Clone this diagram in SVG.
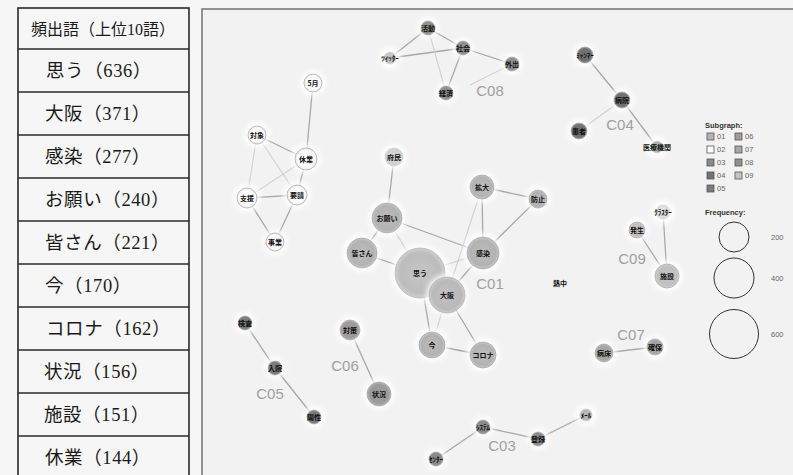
<svg xmlns="http://www.w3.org/2000/svg" width="793" height="475" viewBox="0 0 793 475">
  <style>
    .tbl-line { stroke: #2a2a2a; stroke-width: 1.6; }
    .tbl-text { font-family: "Liberation Serif", "Noto Sans CJK JP", serif; font-size: 18.5px; letter-spacing: 0.6px; fill: #1a1a1a; }
    .tbl-head { font-family: "Liberation Serif", "Noto Sans CJK JP", serif; font-size: 16px; fill: #1a1a1a; }
    .edge { stroke: #a8a8a8; stroke-width: 1.3; fill: none; }
    .edge-faint { stroke: #d0d0d0; stroke-width: 1.1; fill: none; }
    .node-label { font-family: "Noto Sans CJK JP", sans-serif; font-size: 7px; font-weight: bold; fill: #111; text-anchor: middle; dominant-baseline: central; }
    .cluster { font-family: "Liberation Sans", "DejaVu Sans", sans-serif; font-size: 15px; fill: #a0a0a0; text-anchor: middle; dominant-baseline: central; }
    .legend-title { font-family: "Liberation Sans", sans-serif; font-size: 7.5px; font-weight: bold; fill: #333; }
    .legend-text { font-family: "Liberation Sans", sans-serif; font-size: 7.5px; fill: #666; }
    .sw { stroke: #555; stroke-width: 0.8; }
    .halo { fill: #ffffff; opacity: 0.85; }
    .n { stroke: #9a9a9a; stroke-width: 0.6; }
    .g01 { fill: url(#gr01); }
    .g02 { fill: url(#gr02); }
    .g03 { fill: url(#gr03); }
    .g04 { fill: url(#gr04); }
    .g05 { fill: url(#gr05); }
    .g06 { fill: url(#gr06); }
    .g07 { fill: url(#gr07); }
    .g08 { fill: url(#gr08); }
    .g09 { fill: url(#gr09); }
  </style>
  <defs>
    <filter id="soft" x="-50%" y="-50%" width="200%" height="200%">
      <feGaussianBlur stdDeviation="2.5"/>
    </filter>
    <radialGradient id="gr01"><stop offset="0" stop-color="#bdbdbd"/><stop offset="0.8" stop-color="#b2b2b2"/><stop offset="1" stop-color="#c9c9c9"/></radialGradient>
    <radialGradient id="gr02"><stop offset="0" stop-color="#ffffff"/><stop offset="0.8" stop-color="#fafafa"/><stop offset="1" stop-color="#e4e4e4"/></radialGradient>
    <radialGradient id="gr03"><stop offset="0" stop-color="#8c8c8c"/><stop offset="0.8" stop-color="#8a8a8a"/><stop offset="1" stop-color="#b0b0b0"/></radialGradient>
    <radialGradient id="gr04"><stop offset="0" stop-color="#6e6e6e"/><stop offset="0.8" stop-color="#727272"/><stop offset="1" stop-color="#a0a0a0"/></radialGradient>
    <radialGradient id="gr05"><stop offset="0" stop-color="#7a7a7a"/><stop offset="0.8" stop-color="#7c7c7c"/><stop offset="1" stop-color="#a8a8a8"/></radialGradient>
    <radialGradient id="gr06"><stop offset="0" stop-color="#9a9a9a"/><stop offset="0.8" stop-color="#9c9c9c"/><stop offset="1" stop-color="#bcbcbc"/></radialGradient>
    <radialGradient id="gr07"><stop offset="0" stop-color="#a4a4a4"/><stop offset="0.8" stop-color="#a6a6a6"/><stop offset="1" stop-color="#c4c4c4"/></radialGradient>
    <radialGradient id="gr08"><stop offset="0" stop-color="#8e8e8e"/><stop offset="0.8" stop-color="#909090"/><stop offset="1" stop-color="#b4b4b4"/></radialGradient>
    <radialGradient id="gr09"><stop offset="0" stop-color="#c4c4c4"/><stop offset="0.8" stop-color="#c0c0c0"/><stop offset="1" stop-color="#d6d6d6"/></radialGradient>
  </defs>

  <rect x="0" y="0" width="793" height="475" fill="#f7f7f7"/>

  <!-- frequency table -->
  <g id="freq-table">
    <rect x="18" y="8" width="171" height="475" fill="#f6f6f6" class="tbl-line"/>
    <line class="tbl-line" x1="18" y1="49" x2="189" y2="49"/>
    <line class="tbl-line" x1="18" y1="92" x2="189" y2="92"/>
    <line class="tbl-line" x1="18" y1="135" x2="189" y2="135"/>
    <line class="tbl-line" x1="18" y1="178" x2="189" y2="178"/>
    <line class="tbl-line" x1="18" y1="221" x2="189" y2="221"/>
    <line class="tbl-line" x1="18" y1="264" x2="189" y2="264"/>
    <line class="tbl-line" x1="18" y1="307" x2="189" y2="307"/>
    <line class="tbl-line" x1="18" y1="350" x2="189" y2="350"/>
    <line class="tbl-line" x1="18" y1="393" x2="189" y2="393"/>
    <line class="tbl-line" x1="18" y1="436" x2="189" y2="436"/>
    <text class="tbl-head" x="103" y="35" text-anchor="middle">頻出語（上位10語）</text>
    <text class="tbl-text" x="46" y="77">思う（636）</text>
    <text class="tbl-text" x="45" y="120">大阪（371）</text>
    <text class="tbl-text" x="45" y="163">感染（277）</text>
    <text class="tbl-text" x="45" y="206">お願い（240）</text>
    <text class="tbl-text" x="45" y="249">皆さん（221）</text>
    <text class="tbl-text" x="45" y="292">今（170）</text>
    <text class="tbl-text" x="46" y="335">コロナ（162）</text>
    <text class="tbl-text" x="44" y="378">状況（156）</text>
    <text class="tbl-text" x="44" y="421">施設（151）</text>
    <text class="tbl-text" x="45" y="464">休業（144）</text>
  </g>

  <!-- network panel -->
  <rect x="202" y="9" width="595" height="475" fill="#f2f2f2" stroke="#7a7a7a" stroke-width="1.6"/>

  <g id="connectors">
    <!-- C02 -->
    <line class="edge" x1="313" y1="83" x2="306" y2="159"/>
    <line class="edge" x1="257" y1="135" x2="306" y2="159"/>
    <line class="edge-faint" x1="257" y1="135" x2="247" y2="198"/>
    <line class="edge-faint" x1="257" y1="135" x2="297" y2="195"/>
    <line class="edge" x1="306" y1="159" x2="297" y2="195"/>
    <line class="edge-faint" x1="306" y1="159" x2="247" y2="198"/>
    <line class="edge" x1="247" y1="198" x2="297" y2="195"/>
    <line class="edge" x1="247" y1="198" x2="275" y2="242"/>
    <line class="edge" x1="297" y1="195" x2="275" y2="242"/>
    <!-- C08 -->
    <line class="edge" x1="428" y1="28" x2="390" y2="58"/>
    <line class="edge" x1="428" y1="28" x2="463" y2="48"/>
    <line class="edge" x1="390" y1="58" x2="463" y2="48"/>
    <line class="edge-faint" x1="428" y1="28" x2="446" y2="93"/>
    <line class="edge" x1="463" y1="48" x2="446" y2="93"/>
    <line class="edge" x1="463" y1="48" x2="512" y2="64"/>
    <line class="edge-faint" x1="512" y1="64" x2="470" y2="85"/>
    <!-- C01 -->
    <line class="edge" x1="394" y1="157" x2="387" y2="218"/>
    <line class="edge" x1="387" y1="218" x2="362" y2="253"/>
    <line class="edge" x1="387" y1="218" x2="483" y2="253"/>
    <line class="edge-faint" x1="387" y1="218" x2="420" y2="273"/>
    <line class="edge" x1="482" y1="187" x2="483" y2="253"/>
    <line class="edge" x1="482" y1="187" x2="538" y2="199"/>
    <line class="edge" x1="538" y1="199" x2="483" y2="253"/>
    <line class="edge-faint" x1="482" y1="187" x2="447" y2="295"/>
    <line class="edge" x1="362" y1="253" x2="420" y2="273"/>
    <line class="edge-faint" x1="420" y1="273" x2="483" y2="253"/>
    <line class="edge" x1="420" y1="273" x2="432" y2="345"/>
    <line class="edge-faint" x1="447" y1="295" x2="432" y2="345"/>
    <line class="edge" x1="447" y1="295" x2="483" y2="355"/>
    <line class="edge" x1="432" y1="345" x2="483" y2="355"/>
    <line class="edge" x1="447" y1="295" x2="483" y2="253"/>
    <!-- C04 -->
    <line class="edge" x1="585" y1="55" x2="622" y2="100"/>
    <line class="edge" x1="622" y1="100" x2="657" y2="147"/>
    <line class="edge-faint" x1="579" y1="131" x2="622" y2="100"/>
    <!-- C09 -->
    <line class="edge" x1="663" y1="212" x2="667" y2="276"/>
    <line class="edge" x1="637" y1="230" x2="667" y2="276"/>
    <!-- C07 -->
    <line class="edge" x1="604" y1="353" x2="655" y2="347"/>
    <!-- C05 -->
    <line class="edge" x1="245" y1="323" x2="275" y2="368"/>
    <line class="edge" x1="275" y1="368" x2="314" y2="417"/>
    <!-- C06 -->
    <line class="edge" x1="350" y1="330" x2="379" y2="394"/>
    <!-- C03 -->
    <line class="edge" x1="436" y1="459" x2="483" y2="427"/>
    <line class="edge" x1="483" y1="427" x2="538" y2="439"/>
    <line class="edge" x1="538" y1="439" x2="586" y2="415"/>
  </g>

  <!-- C02 nodes -->
  <g id="n-5gatsu"><circle class="halo" cx="313" cy="83" r="13" filter="url(#soft)"/><circle class="n g02" cx="313" cy="83" r="9"/><text class="node-label" x="313" y="83">5月</text></g>
  <g id="n-taisho"><circle class="halo" cx="257" cy="135" r="13" filter="url(#soft)"/><circle class="n g02" cx="257" cy="135" r="9"/><text class="node-label" x="257" y="135">対象</text></g>
  <g id="n-kyugyo"><circle class="halo" cx="306" cy="159" r="15" filter="url(#soft)"/><circle class="n g02" cx="306" cy="159" r="11"/><text class="node-label" x="306" y="159">休業</text></g>
  <g id="n-yosei"><circle class="halo" cx="297" cy="195" r="14" filter="url(#soft)"/><circle class="n g02" cx="297" cy="195" r="10"/><text class="node-label" x="297" y="195">要請</text></g>
  <g id="n-shien"><circle class="halo" cx="247" cy="198" r="14" filter="url(#soft)"/><circle class="n g02" cx="247" cy="198" r="10"/><text class="node-label" x="247" y="198">支援</text></g>
  <g id="n-jigyo"><circle class="halo" cx="275" cy="242" r="13" filter="url(#soft)"/><circle class="n g02" cx="275" cy="242" r="9"/><text class="node-label" x="275" y="242">事業</text></g>

  <!-- C08 nodes -->
  <g id="n-katsudo"><circle class="halo" cx="428" cy="28" r="11" filter="url(#soft)"/><circle class="n g08" cx="428" cy="28" r="7"/><text class="node-label" x="428" y="28">活動</text></g>
  <g id="n-twitter"><circle class="halo" cx="390" cy="58" r="11" filter="url(#soft)"/><circle class="n g08" cx="390" cy="58" r="6" opacity="0.5"/><text class="node-label" x="390" y="58">ﾂｲｯﾀｰ</text></g>
  <g id="n-shakai"><circle class="halo" cx="463" cy="48" r="11" filter="url(#soft)"/><circle class="n g08" cx="463" cy="48" r="7"/><text class="node-label" x="463" y="48">社会</text></g>
  <g id="n-gaishutsu"><circle class="halo" cx="512" cy="64" r="11" filter="url(#soft)"/><circle class="n g08" cx="512" cy="64" r="7"/><text class="node-label" x="512" y="64">外出</text></g>
  <g id="n-keizai"><circle class="halo" cx="446" cy="93" r="11" filter="url(#soft)"/><circle class="n g08" cx="446" cy="93" r="7"/><text class="node-label" x="446" y="93">経済</text></g>

  <!-- C01 nodes -->
  <g id="n-fumin"><circle class="halo" cx="394" cy="157" r="13" filter="url(#soft)"/><circle class="n g01" cx="394" cy="157" r="9" opacity="0.6"/><text class="node-label" x="394" y="157">府民</text></g>
  <g id="n-onegai"><circle class="halo" cx="387" cy="218" r="19" filter="url(#soft)"/><circle class="n g01" cx="387" cy="218" r="15"/><text class="node-label" x="387" y="218">お願い</text></g>
  <g id="n-kakudai"><circle class="halo" cx="482" cy="187" r="16" filter="url(#soft)"/><circle class="n g01" cx="482" cy="187" r="12"/><text class="node-label" x="482" y="187">拡大</text></g>
  <g id="n-boshi"><circle class="halo" cx="538" cy="199" r="13" filter="url(#soft)"/><circle class="n g01" cx="538" cy="199" r="9"/><text class="node-label" x="538" y="199">防止</text></g>
  <g id="n-minasan"><circle class="halo" cx="362" cy="253" r="19" filter="url(#soft)"/><circle class="n g01" cx="362" cy="253" r="15"/><text class="node-label" x="362" y="253">皆さん</text></g>
  <g id="n-kansen"><circle class="halo" cx="483" cy="253" r="20" filter="url(#soft)"/><circle class="n g01" cx="483" cy="253" r="16"/><text class="node-label" x="483" y="253">感染</text></g>
  <g id="n-omou"><circle class="halo" cx="420" cy="273" r="29" filter="url(#soft)"/><circle class="n g01" cx="420" cy="273" r="25" opacity="0.85"/><text class="node-label" x="420" y="273">思う</text></g>
  <g id="n-osaka"><circle class="halo" cx="447" cy="295" r="21" filter="url(#soft)" opacity="0.4"/><circle class="n g01" cx="447" cy="295" r="18" opacity="0.9"/><text class="node-label" x="447" y="295">大阪</text></g>
  <g id="n-ima"><circle class="halo" cx="432" cy="345" r="17" filter="url(#soft)"/><circle class="n g01" cx="432" cy="345" r="13"/><text class="node-label" x="432" y="345">今</text></g>
  <g id="n-corona"><circle class="halo" cx="483" cy="355" r="17" filter="url(#soft)"/><circle class="n g01" cx="483" cy="355" r="13"/><text class="node-label" x="483" y="355">コロナ</text></g>
  <text class="cluster" x="490" y="283">C01</text>

  <!-- C04 nodes -->
  <g id="n-myanmar"><circle class="halo" cx="585" cy="55" r="12" filter="url(#soft)"/><circle class="n g04" cx="585" cy="55" r="8"/><text class="node-label" x="585" y="55">ﾐｬﾝﾏｰ</text></g>
  <g id="n-byoin"><circle class="halo" cx="622" cy="100" r="12" filter="url(#soft)"/><circle class="n g04" cx="622" cy="100" r="8"/><text class="node-label" x="622" y="100">病院</text></g>
  <g id="n-kanja"><circle class="halo" cx="579" cy="131" r="12" filter="url(#soft)"/><circle class="n g04" cx="579" cy="131" r="8"/><text class="node-label" x="579" y="131">患者</text></g>
  <g id="n-iryokikan"><circle class="halo" cx="657" cy="147" r="11" filter="url(#soft)"/><circle class="n g04" cx="657" cy="147" r="6" opacity="0.5"/><text class="node-label" x="657" y="147">医療機関</text></g>
  <text class="cluster" x="620" y="124">C04</text>

  <!-- C09 nodes -->
  <g id="n-cluster"><circle class="halo" cx="663" cy="212" r="12" filter="url(#soft)"/><circle class="n g09" cx="663" cy="212" r="7" opacity="0.5"/><text class="node-label" x="663" y="212">ｸﾗｽﾀｰ</text></g>
  <g id="n-hassei"><circle class="halo" cx="637" cy="230" r="12" filter="url(#soft)"/><circle class="n g09" cx="637" cy="230" r="8"/><text class="node-label" x="637" y="230">発生</text></g>
  <g id="n-shisetsu"><circle class="halo" cx="667" cy="276" r="16" filter="url(#soft)"/><circle class="n g09" cx="667" cy="276" r="12"/><text class="node-label" x="667" y="276">施設</text></g>
  <text class="cluster" x="632" y="258">C09</text>

  <!-- isolated word -->
  <g id="n-necchu"><text class="node-label" x="560" y="283" font-weight="normal">熱中</text></g>

  <!-- C07 nodes -->
  <g id="n-byosho"><circle class="halo" cx="604" cy="353" r="13" filter="url(#soft)"/><circle class="n g07" cx="604" cy="353" r="9"/><text class="node-label" x="604" y="353">病床</text></g>
  <g id="n-kakuho"><circle class="halo" cx="655" cy="347" r="12" filter="url(#soft)"/><circle class="n g07" cx="655" cy="347" r="8"/><text class="node-label" x="655" y="347">確保</text></g>
  <text class="cluster" x="631" y="334">C07</text>

  <!-- C05 nodes -->
  <g id="n-kensa"><circle class="halo" cx="245" cy="323" r="11" filter="url(#soft)"/><circle class="n g05" cx="245" cy="323" r="7"/><text class="node-label" x="245" y="323">検査</text></g>
  <g id="n-nyuin"><circle class="halo" cx="275" cy="368" r="11" filter="url(#soft)"/><circle class="n g05" cx="275" cy="368" r="7"/><text class="node-label" x="275" y="368">入院</text></g>
  <g id="n-yosei2"><circle class="halo" cx="314" cy="417" r="11" filter="url(#soft)"/><circle class="n g05" cx="314" cy="417" r="7"/><text class="node-label" x="314" y="417">陽性</text></g>
  <text class="cluster" x="270" y="393">C05</text>

  <!-- C06 nodes -->
  <g id="n-taisaku"><circle class="halo" cx="350" cy="330" r="14" filter="url(#soft)"/><circle class="n g06" cx="350" cy="330" r="10"/><text class="node-label" x="350" y="330">対策</text></g>
  <g id="n-jokyo"><circle class="halo" cx="379" cy="394" r="16" filter="url(#soft)"/><circle class="n g06" cx="379" cy="394" r="12"/><text class="node-label" x="379" y="394">状況</text></g>
  <text class="cluster" x="345" y="365">C06</text>

  <!-- C03 nodes -->
  <g id="n-center"><circle class="halo" cx="436" cy="459" r="11" filter="url(#soft)"/><circle class="n g03" cx="436" cy="459" r="7"/><text class="node-label" x="436" y="459">ｾﾝﾀｰ</text></g>
  <g id="n-system"><circle class="halo" cx="483" cy="427" r="11" filter="url(#soft)"/><circle class="n g03" cx="483" cy="427" r="7"/><text class="node-label" x="483" y="427">ｼｽﾃﾑ</text></g>
  <g id="n-toroku"><circle class="halo" cx="538" cy="439" r="11" filter="url(#soft)"/><circle class="n g03" cx="538" cy="439" r="7"/><text class="node-label" x="538" y="439">登録</text></g>
  <g id="n-mail"><circle class="halo" cx="586" cy="415" r="11" filter="url(#soft)"/><circle class="n g03" cx="586" cy="415" r="6" opacity="0.6"/><text class="node-label" x="586" y="415">ﾒｰﾙ</text></g>
  <text class="cluster" x="502" y="445">C03</text>

  <!-- C08 cluster label -->
  <text class="cluster" x="490" y="90">C08</text>

  <!-- legend -->
  <g id="legend">
    <text class="legend-title" x="705" y="128">Subgraph:</text>
    <rect class="sw" x="707" y="133" width="7" height="7" fill="#b5b5b5"/><text class="legend-text" x="717" y="139">01</text>
    <rect class="sw" x="707" y="146" width="7" height="7" fill="#ffffff"/><text class="legend-text" x="717" y="152">02</text>
    <rect class="sw" x="707" y="159" width="7" height="7" fill="#8a8a8a"/><text class="legend-text" x="717" y="165">03</text>
    <rect class="sw" x="707" y="172" width="7" height="7" fill="#727272"/><text class="legend-text" x="717" y="178">04</text>
    <rect class="sw" x="707" y="185" width="7" height="7" fill="#7c7c7c"/><text class="legend-text" x="717" y="191">05</text>
    <rect class="sw" x="735" y="133" width="7" height="7" fill="#9c9c9c"/><text class="legend-text" x="745" y="139">06</text>
    <rect class="sw" x="735" y="146" width="7" height="7" fill="#a6a6a6"/><text class="legend-text" x="745" y="152">07</text>
    <rect class="sw" x="735" y="159" width="7" height="7" fill="#909090"/><text class="legend-text" x="745" y="165">08</text>
    <rect class="sw" x="735" y="172" width="7" height="7" fill="#c4c4c4"/><text class="legend-text" x="745" y="178">09</text>
    <text class="legend-title" x="705" y="215">Frequency:</text>
    <circle cx="734" cy="237" r="15" fill="none" stroke="#333" stroke-width="1"/>
    <text class="legend-text" x="771" y="240">200</text>
    <circle cx="734" cy="278" r="20" fill="none" stroke="#333" stroke-width="1"/>
    <text class="legend-text" x="771" y="281">400</text>
    <circle cx="734" cy="334" r="24.5" fill="none" stroke="#333" stroke-width="1"/>
    <text class="legend-text" x="771" y="337">600</text>
  </g>
</svg>
